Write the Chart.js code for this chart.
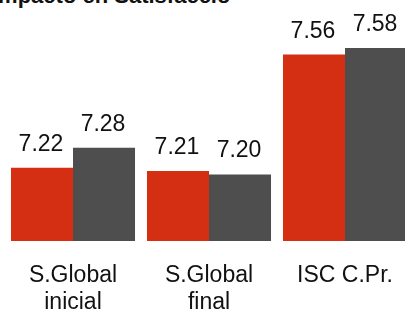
<!DOCTYPE html>
<html>
<head>
<meta charset="utf-8">
<script src="https://cdn.jsdelivr.net/npm/chart.js@4"></script>
<style>
  html, body { margin: 0; padding: 0; background: #fff; overflow: hidden; }
  #wrap { position: relative; width: 405px; height: 310px; overflow: hidden; }
  #title {
    position: absolute; left: -8px; top: -15px;
    font: bold 22px "Liberation Sans", Arial, sans-serif; line-height: 22px;
    color: #111; white-space: nowrap;
  }
  #box { position: absolute; left: 0; top: 0; width: 418px; height: 337px; }
</style>
</head>
<body>
<div id="wrap">
  <div id="title">Impacto en Satisfacció</div>
  <div id="box"><canvas id="chart" width="418" height="337"></canvas></div>
</div>
<script>
// Categories and values
const categories = [['S.Global', 'inicial'], ['S.Global', 'final'], ['ISC C.Pr.']];
const seriesA = [7.22, 7.21, 7.56];
const seriesB = [7.28, 7.20, 7.58];

const RED = '#d42f13';
const GREY = '#4e4e4e';

// Draw the value above each bar
const valueLabels = {
    id: 'valueLabels',
    afterDatasetsDraw(chart) {
        const ctx = chart.ctx;
        ctx.save();
        ctx.font = '23px "Liberation Sans", Arial, sans-serif';
        ctx.fillStyle = '#111';
        ctx.textAlign = 'center';
        ctx.textBaseline = 'alphabetic';
        chart.data.datasets.forEach((ds, i) => {
            chart.getDatasetMeta(i).data.forEach((bar, j) => {
                ctx.fillText(ds.data[j].toFixed(2), bar.x - 1, bar.y - 17);
            });
        });
        ctx.restore();
    }
};

new Chart(document.getElementById('chart'), {
    type: 'bar',
    data: {
        labels: categories,
        datasets: [
            { data: seriesA, backgroundColor: RED },
            { data: seriesB, backgroundColor: GREY }
        ]
    },
    options: {
        responsive: false,
        animation: false,
        layout: { padding: { left: 5, right: 5, top: 8, bottom: 0 } },
        plugins: { legend: { display: false }, tooltip: { enabled: false } },
        datasets: { bar: { categoryPercentage: 0.912, barPercentage: 1.0 } },
        scales: {
            x: {
                grid: { display: false, drawTicks: false },
                border: { display: false },
                ticks: {
                    color: '#111',
                    padding: 21,
                    maxRotation: 0,
                    autoSkip: false,
                    font: { family: '"Liberation Sans", Arial, sans-serif', size: 23, lineHeight: 1.174 }
                }
            },
            y: { display: false, min: 7.0, max: 7.7 }
        }
    },
    plugins: [valueLabels]
});
</script>
</body>
</html>
